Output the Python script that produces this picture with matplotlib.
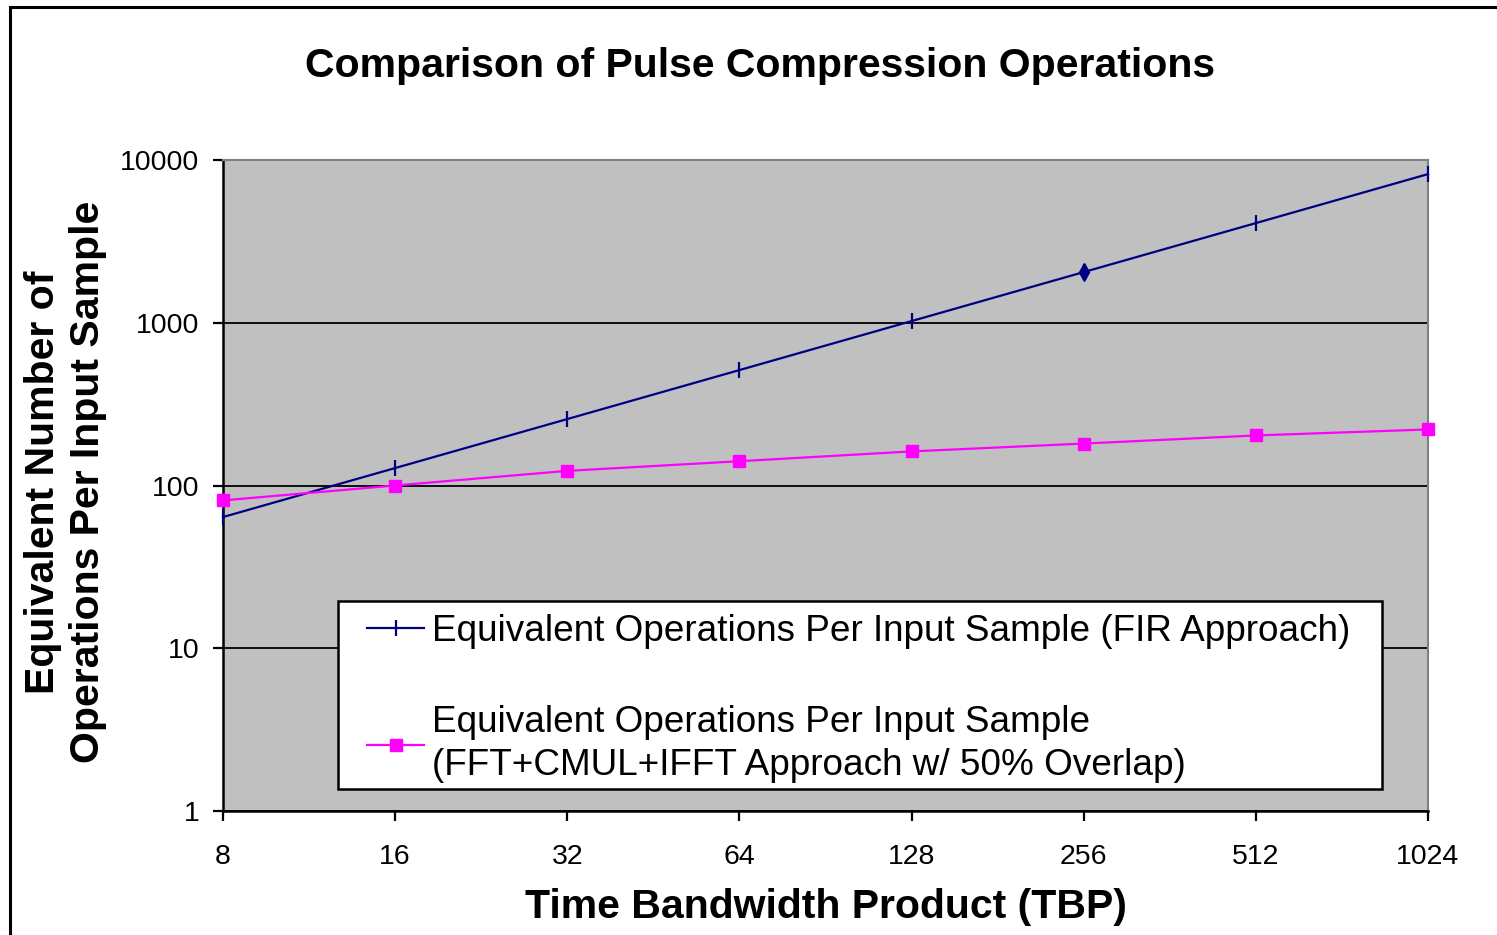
import numpy as np
import matplotlib
matplotlib.use("Agg")
import matplotlib.pyplot as plt
from matplotlib.patches import Rectangle

plt.rcParams["font.family"] = ["Liberation Sans", "DejaVu Sans"]

# Time bandwidth product categories and operations per input sample
tbp_labels = ["8", "16", "32", "64", "128", "256", "512", "1024"]
fir_ops = [64, 128, 256, 512, 1024, 2048, 4096, 8192]
fft_ops = [81, 100, 123, 141, 162, 181, 203, 221]

fir_label = "Equivalent Operations Per Input Sample (FIR Approach)"
fft_label = ("Equivalent Operations Per Input Sample\n"
             "(FFT+CMUL+IFFT Approach w/ 50% Overlap)")

W, H = 1497, 935


def main():
    fig = plt.figure(figsize=(W / 100, H / 100), dpi=100)
    fig.patches.append(Rectangle((9.5 / W, -0.1), 1.2, 1 - 6.5 / H + 0.1,
                                 transform=fig.transFigure, fill=False,
                                 edgecolor="black", linewidth=2.2))
    ax = fig.add_axes([223 / W, 1 - 811 / H, 1205 / W, 651 / H])
    ax.set_facecolor("#C0C0C0")

    x = np.arange(len(tbp_labels))
    ax.plot(x, fir_ops, color="#000080", linewidth=1.6, marker="|",
            markersize=11, markeredgewidth=1.6, label=fir_label, zorder=4,
            clip_on=False)
    ax.plot(x, fir_ops, linestyle="none", marker="d", markersize=9,
            color="#000080", markevery=[5], zorder=4)
    ax.plot(x, fft_ops, color="#FF00FF", linewidth=1.6, marker="s",
            markersize=9, label=fft_label, zorder=4, clip_on=False)

    ax.set_yscale("log")
    ax.set_ylim(1, 10000)
    ax.set_xlim(0, len(tbp_labels) - 1)
    ax.set_yticks([1, 10, 100, 1000, 10000])
    ax.set_yticklabels(["1", "10", "100", "1000", "10000"])
    ax.yaxis.set_minor_locator(matplotlib.ticker.NullLocator())
    ax.set_xticks(x)
    ax.set_xticklabels(tbp_labels)

    ax.grid(axis="y", which="major", color="black", linewidth=1.3)
    ax.set_axisbelow(True)
    for s in ["top", "right"]:
        ax.spines[s].set_color("#808080")
        ax.spines[s].set_linewidth(1.5)
    for s in ["left", "bottom"]:
        ax.spines[s].set_linewidth(1.8)
    ax.tick_params(axis="y", direction="out", length=7, width=1.6,
                   pad=10, labelsize=20.5)
    ax.tick_params(axis="x", direction="out", length=7, width=1.6,
                   pad=17, labelsize=20.5)

    fig.text(826 / W, 1 - 907 / H, "Time Bandwidth Product (TBP)",
             fontsize=29.5, fontweight="bold", ha="center", va="center")
    fig.text(43 / W, 1 - 482 / H, "Equivalent Number of", rotation=90,
             fontsize=29.5, fontweight="bold", ha="center", va="center")
    fig.text(88 / W, 1 - 482 / H, "Operations Per Input Sample",
             rotation=90, fontsize=29.5, fontweight="bold", ha="center",
             va="center")
    fig.text(760 / W, 1 - 66 / H, "Comparison of Pulse Compression Operations",
             fontsize=29.5, fontweight="bold", ha="center", va="center")

    # legend box drawn separately so the padding matches
    box = Rectangle((338 / W, 1 - 789 / H), 1044 / W, 188 / H,
                    transform=fig.transFigure, facecolor="white",
                    edgecolor="black", linewidth=1.8, zorder=4.8)
    ax.add_artist(box)
    box.set_clip_on(False)
    leg = ax.legend(loc="upper left", bbox_to_anchor=(367 / W, 1 - 614 / H),
                    bbox_transform=fig.transFigure, fontsize=26.6,
                    frameon=False, borderpad=0, handlelength=1.55,
                    handletextpad=0.22, labelspacing=1.52, borderaxespad=0)
    leg.set_zorder(5)
    leg.get_texts()[1].set_linespacing(1.3)

    fig.savefig("out.png", dpi=100)


if __name__ == "__main__":
    main()
